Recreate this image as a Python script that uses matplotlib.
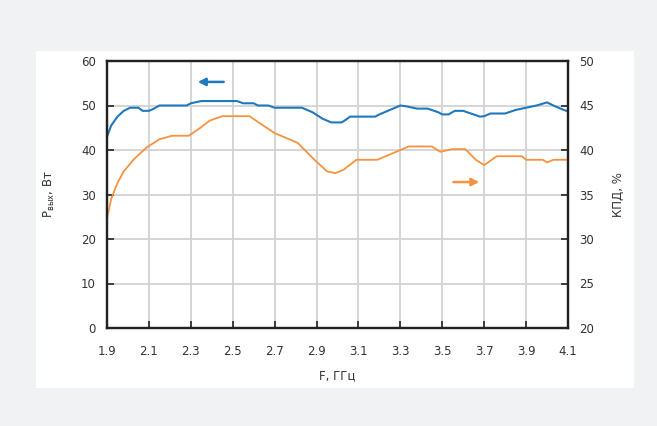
import matplotlib.pyplot as plt
from matplotlib.patches import Rectangle

# frequency, GHz
freq = [1.90, 1.92, 1.95, 1.98, 2.01, 2.05, 2.07, 2.10, 2.12, 2.15, 2.20, 2.28, 2.30, 2.35,
        2.45, 2.52, 2.55, 2.60, 2.62, 2.67, 2.70, 2.78, 2.83, 2.88, 2.93, 2.97, 3.02, 3.04,
        3.06, 3.12, 3.18, 3.20, 3.25, 3.30, 3.33, 3.38, 3.43, 3.48, 3.50, 3.53, 3.56, 3.60,
        3.63, 3.68, 3.70, 3.73, 3.80, 3.85, 3.90, 3.95, 4.00, 4.03, 4.08, 4.10]
# output power, W
p_out = [43.0, 45.5, 47.5, 48.8, 49.5, 49.5, 48.8, 48.8, 49.2, 50.0, 50.0, 50.0, 50.5, 51.0,
         51.0, 51.0, 50.5, 50.5, 50.0, 50.0, 49.5, 49.5, 49.5, 48.5, 47.0, 46.2, 46.2, 46.8,
         47.5, 47.5, 47.5, 48.0, 49.0, 50.0, 49.8, 49.3, 49.3, 48.5, 48.0, 48.0, 48.8, 48.8,
         48.3, 47.5, 47.6, 48.2, 48.2, 49.0, 49.5, 50.0, 50.7, 50.0, 49.0, 48.7]

# efficiency, %
freq_eff = [1.90, 1.92, 1.95, 1.98, 2.03, 2.09, 2.15, 2.21, 2.29, 2.34, 2.39, 2.45, 2.50,
            2.58, 2.63, 2.70, 2.75, 2.81, 2.89, 2.95, 2.99, 3.03, 3.09, 3.19, 3.25, 3.31,
            3.34, 3.45, 3.49, 3.55, 3.61, 3.66, 3.70, 3.76, 3.88, 3.90, 3.98, 4.00, 4.03, 4.10]
eff = [32.3, 34.5, 36.3, 37.6, 39.0, 40.3, 41.2, 41.6, 41.6, 42.4, 43.3, 43.8, 43.8,
       43.8, 43.0, 41.9, 41.4, 40.8, 38.9, 37.6, 37.4, 37.8, 38.9, 38.9, 39.5, 40.1,
       40.4, 40.4, 39.8, 40.1, 40.1, 38.9, 38.3, 39.3, 39.3, 38.9, 38.9, 38.6, 38.9, 38.9]

xticks = [1.9, 2.1, 2.3, 2.5, 2.7, 2.9, 3.1, 3.3, 3.5, 3.7, 3.9, 4.1]

blue = '#2078bd'
orange = '#f7923f'
txt = '#333333'

fig = plt.figure(figsize=(6.57, 4.26), dpi=100, facecolor='#f1f2f4')
fig.patches.append(Rectangle((36 / 657, 1 - 388 / 426), 598 / 657, 337 / 426,
                             transform=fig.transFigure, facecolor='white',
                             edgecolor='none', zorder=-10))

ax = fig.add_axes([107 / 657, 1 - 328 / 426, 461 / 657, 267 / 426])
ax2 = ax.twinx()

ax.plot(freq, p_out, color=blue, lw=1.5)
ax2.plot(freq_eff, eff, color=orange, lw=1.3)

ax.set_xlim(1.9, 4.1)
ax.set_ylim(0, 60)
ax2.set_ylim(20, 50)
ax.set_xticks(xticks)
ax.set_xticklabels([f'{v:.1f}' for v in xticks])
ax.set_yticks(range(0, 61, 10))
ax2.set_yticks(range(20, 51, 5))

ax.grid(True, color='#d2d2d2', lw=1.3)
ax.set_axisbelow(True)

for a in (ax, ax2):
    a.tick_params(direction='in', length=5, width=1.2, labelsize=8.5,
                  colors='#222222', labelcolor=txt, pad=8)
    for s in a.spines.values():
        s.set_linewidth(1.6)
        s.set_color('#222222')
ax.tick_params(axis='x', pad=12)

ax.set_xlabel('F, ГГц', fontsize=8.5, color=txt, labelpad=8)
ax.set_ylabel('P$_{\\mathregular{вых}}$, Вт', fontsize=8.5, color=txt, labelpad=17)
ax2.set_ylabel('КПД, %', fontsize=8.5, color=txt, rotation=90, labelpad=13)

# arrows showing which axis each curve belongs to
ax.annotate('', xy=(2.32, 55.3), xytext=(2.47, 55.3),
            arrowprops=dict(arrowstyle='-|>', color=blue, lw=1.8, mutation_scale=11))
ax2.annotate('', xy=(3.69, 36.4), xytext=(3.54, 36.4),
             arrowprops=dict(arrowstyle='-|>', color=orange, lw=1.8, mutation_scale=11))

fig.savefig('out.png', dpi=100, facecolor=fig.get_facecolor())
